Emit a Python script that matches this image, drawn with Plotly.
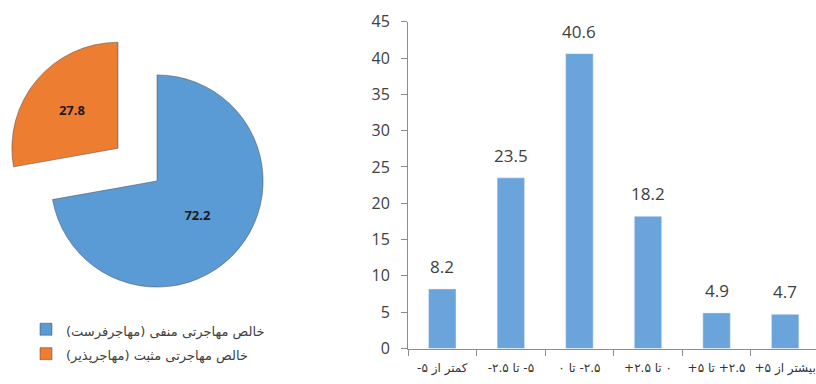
import plotly.graph_objects as go

RLM = "\u200F"

# Pie data
pie_labels = ["خالص مهاجرتی منفی (مهاجرفرست)", "خالص مهاجرتی مثبت (مهاجرپذیر)"]
pie_values = [72.2, 27.8]
pie_colors = ["#5B9BD5", "#ED7D31"]

# Bar data
bar_categories = ["کمتر از ۵-", "۵- تا ۲.۵-", "۲.۵- تا ۰", "۰ تا ۲.۵+", "۲.۵+ تا ۵+", "بیشتر از ۵+"]
bar_values = [8.2, 23.5, 40.6, 18.2, 4.9, 4.7]
y_ticks = [0, 5, 10, 15, 20, 25, 30, 35, 40, 45]

W, H = 816, 384

def px_x(p):
    return p / W

def px_y(p):
    return (H - p) / H

cat_text = [RLM + c + RLM for c in bar_categories]

fig = go.Figure()

fig.add_trace(go.Pie(
    labels=['<span style="font-size:13px">' + RLM + s + RLM + '</span>' for s in pie_labels],
    values=pie_values,
    sort=False,
    direction="clockwise",
    rotation=0,
    pull=[0, 0.48],
    marker=dict(colors=pie_colors, line=dict(color="rgba(70,70,70,0.7)", width=0.7)),
    textinfo="value",
    textposition="inside",
    insidetextorientation="horizontal",
    textfont=dict(family="Open Sans", size=13, color="#1a1a1a", weight="bold"),
    domain=dict(x=[0, px_x(314)], y=[px_y(340), px_y(22)]),
    showlegend=True,
    hoverinfo="label+value",
))

fig.add_trace(go.Bar(
    x=cat_text,
    y=bar_values,
    marker=dict(color="#6AA4DA"),
    showlegend=False,
    xaxis="x", yaxis="y",
    hoverinfo="x+y",
))

annotations = [
    dict(x=c, y=v, xref="x", yref="y", text=f"{v}", showarrow=False,
         yanchor="bottom", yshift=9,
         font=dict(family="Open Sans", size=17, color="#404040"))
    for c, v in zip(cat_text, bar_values)
]

fig.update_layout(
    width=W, height=H,
    margin=dict(l=0, r=0, t=0, b=0, autoexpand=False),
    paper_bgcolor="white",
    plot_bgcolor="white",
    bargap=0.6,
    font=dict(family="Open Sans, DejaVu Sans", color="#404040"),
    annotations=annotations,
    xaxis=dict(
        domain=[px_x(408), 1.0],
        range=[-0.5, 5.45],
        showline=True, linecolor="#8C8C8C", linewidth=1,
        ticks="outside", ticklen=6, tickcolor="#8C8C8C",
        tickson="boundaries",
        tickangle=0,
        ticklabelstandoff=8,
        tickfont=dict(family="DejaVu Sans", size=12, color="#333333"),
        showgrid=False, zeroline=False,
        fixedrange=True, automargin=False,
    ),
    yaxis=dict(
        domain=[px_y(348.5), px_y(21.7)],
        range=[0, 45],
        tickvals=y_ticks,
        showline=True, linecolor="#8C8C8C", linewidth=1,
        ticks="outside", ticklen=6, tickcolor="#8C8C8C",
        ticklabelstandoff=8,
        tickfont=dict(family="Open Sans", size=16, color="#404040"),
        showgrid=False, zeroline=False,
        fixedrange=True, automargin=False,
    ),
    legend=dict(
        x=px_x(26), y=px_y(312), xanchor="left", yanchor="top",
        font=dict(family="DejaVu Sans", size=16.5, color="#404040"),
        bgcolor="rgba(0,0,0,0)",
    ),
)

fig.write_html("out.html")
